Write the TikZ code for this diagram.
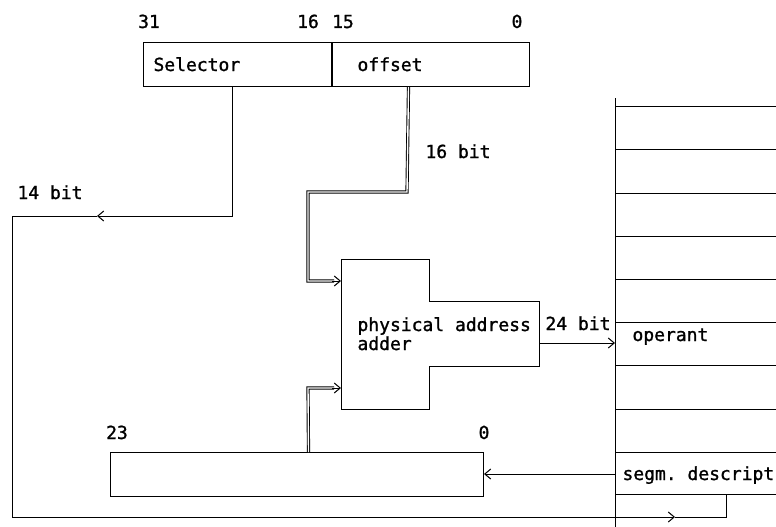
\documentclass[tikz,border=0pt]{standalone}
\usepackage{fontspec}
\setmonofont{DejaVu Sans Mono}[FakeBold=1.2]
\usetikzlibrary{arrows.meta}

\begin{document}
\begin{tikzpicture}[x=1pt, y=-1pt, line width=1pt,
  every node/.style={font=\ttfamily\fontsize{18}{20}\selectfont, inner sep=0pt},
  field/.style={draw, minimum height=44pt, anchor=north west},
  bus/.style={line width=3.2pt, postaction={draw=white, line width=1.4pt}},
  barb/.style={-{Straight Barb[length=6pt,width=10pt]}}]

\useasboundingbox (0,0) rectangle (776,527);

% selector : offset
\node[field, minimum width=188pt] (sel) at (143,42) {};
\node[field, minimum width=197pt] (off) at (sel.north east) {};
\node[anchor=base] (b31) at (149,28) {31};
\node[anchor=base] (b16) at (308,28) {16};
\node[anchor=base] (b15) at (343,28) {15};
\node[anchor=base] (b0) at (517,28) {0};
\node[anchor=base west] (tsel) at (153,71) {Selector};
\node[anchor=base west] (toff) at (357,71) {offset};

% physical address adder
\draw (341,259) -- (429,259) -- (429,301) -- (539,301) -- (539,366)
  -- (429,366) -- (429,409) -- (341,409) -- cycle;
\coordinate (addA) at (341,281);
\coordinate (addB) at (341,388);
\coordinate (addout) at (539,343);
\node[anchor=base west] (tadd1) at (357,331) {physical address};
\node[anchor=base west] (tadd2) at (357,350) {adder};

% memory
\draw (615,98) -- (615,527);
\foreach \y in {106,149,193,236,279,322,365,409,452,494}
  \draw (615,\y) -- (776,\y);
\coordinate (opr) at (615,343);
\coordinate (dsc) at (615,474);
\coordinate (dscb) at (726,494);
\node[anchor=base west] (topr) at (632,341) {operant};
\node[anchor=base west] (tdsc) at (622,480) {segm. descript};

% segment base register
\node[field, minimum width=373pt] (base) at (110,452) {};
\node[anchor=base] (b23) at (117,439) {23};
\node[anchor=base] (b0b) at (484,439) {0};

% selector -> descriptor
\coordinate (s14) at (97,216);
\coordinate (r14) at (675,517);
\draw[barb] ([xshift=-5pt]sel.south) |- (s14);
\draw[barb] (s14) -- (12,216) |- (r14);
\draw (r14) -| (dscb);
\node[anchor=base west] (t14) at (17,199) {14 bit};

% offset -> adder
\coordinate (o1) at ([xshift=-22.5pt]off.south);
\coordinate (o2) at (407,192);
\coordinate (o3) at (308,192);
\coordinate (o4) at (308,281);
\draw[bus] (o1) -- (o2) -- (o3) -- (o4) -- ([xshift=-7pt]addA);
\draw[barb] ([xshift=-9pt]addA) -- (addA);
\node[anchor=base west] (t16) at (425,158) {16 bit};

% base -> adder
\coordinate (l1) at ([xshift=11.5pt]base.north);
\coordinate (l2) at (308,388);
\draw[bus] (l1) -- (l2) -- ([xshift=-7pt]addB);
\draw[barb] ([xshift=-9pt]addB) -- (addB);

% adder -> operant
\draw[barb] (addout) -- (opr);
\node[anchor=base west] (t24) at (545,330) {24 bit};

% descriptor -> base
\draw[barb] (dsc) -- (dsc -| base.east);

\end{tikzpicture}
\end{document}
